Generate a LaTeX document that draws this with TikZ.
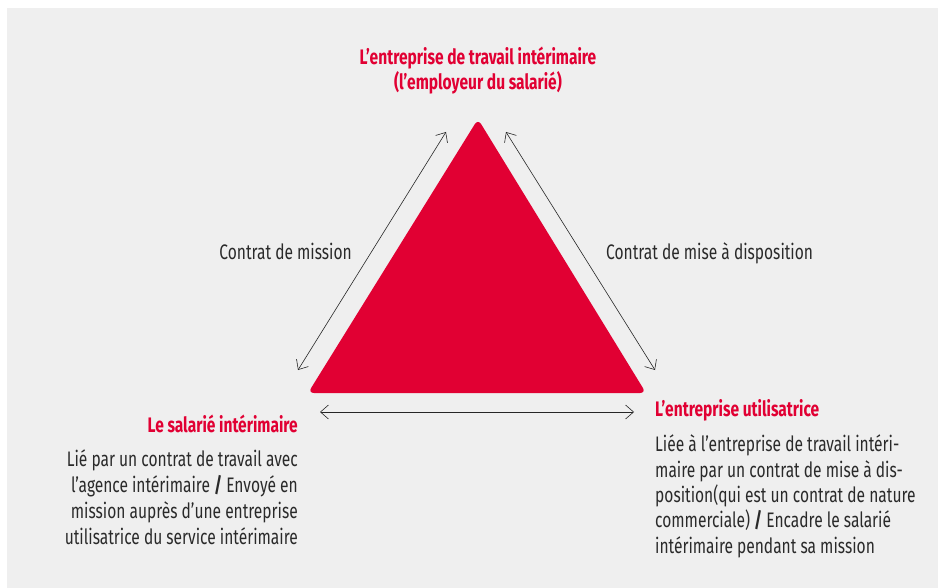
\documentclass[tikz,border=0pt]{standalone}
\usepackage{fontspec}
\setmainfont{Fira Sans}[FakeStretch=0.74]
\usetikzlibrary{arrows.meta}
\definecolor{interred}{HTML}{E10033}
\definecolor{panelgrey}{HTML}{EFEFEF}
\definecolor{inktext}{HTML}{2A2A2A}

\begin{document}
\begin{tikzpicture}[x=1pt, y=-1pt,
		twoway/.style={{Straight Barb[length=8pt, width=14pt]}-{Straight Barb[length=8pt, width=14pt]}, line width=0.6pt, black!85},
		heading/.style={text=interred, inner sep=0pt, font=\fontsize{21}{25}\selectfont\bfseries},
		body/.style={text=inktext, inner sep=0pt, font=\fontsize{21}{26}\selectfont}
	]
	\useasboundingbox (0,0) rectangle (938,588);
	\fill[panelgrey] (7,8) rectangle (938,588);
	
	% triangle corners
	\coordinate (top)   at (478,119);
	\coordinate (left)  at (308,393);
	\coordinate (right) at (646,393);
	\fill[interred, rounded corners=6pt] (top) -- (left) -- (right) -- cycle;
	
	% arrow ends
	\coordinate (m-a) at (298,370);
	\coordinate (m-b) at (446,132);
	\coordinate (d-a) at (506,132);
	\coordinate (d-b) at (655,370);
	\coordinate (s-a) at (320,412);
	\coordinate (s-b) at (634,412);
	
	\draw[twoway] (m-a) -- (m-b);
	\draw[twoway] (d-a) -- (d-b);
	\draw[twoway] (s-a) -- (s-b);
	
	% texts (base = baseline of the last line)
	\node[heading, align=center, anchor=base] (ett) at (478,90)
		{L’entreprise de travail intérimaire\\(l’employeur du salarié)};
	\node[body, anchor=base east] (mission) at (352,260) {Contrat de mission};
	\node[body, anchor=base west] (dispo) at (606,260) {Contrat de mise à disposition};
	
	\node[heading, anchor=base east] (salarie) at (298,432) {Le salarié intérimaire};
	\node[body, align=right, anchor=base east] (salarie-txt) at (298,544)
		{Lié par un contrat de travail avec\\
		 l’agence intérimaire \textbf{/} Envoyé en\\
		 mission auprès d’une entreprise\\
		 utilisatrice du service intérimaire};
	
	\node[heading, anchor=base west] (eu) at (655,417) {L’entreprise utilisatrice};
	\node[body, align=left, anchor=base west, font=\fontsize{21}{25.3}\selectfont] (eu-txt) at (655,553)
		{Liée à l’entreprise de travail intéri-\\
		 maire par un contrat de mise à dis-\\
		 position(qui est un contrat de nature\\
		 commerciale) \textbf{/} Encadre le salarié\\
		 intérimaire pendant sa mission};
\end{tikzpicture}
\end{document}
